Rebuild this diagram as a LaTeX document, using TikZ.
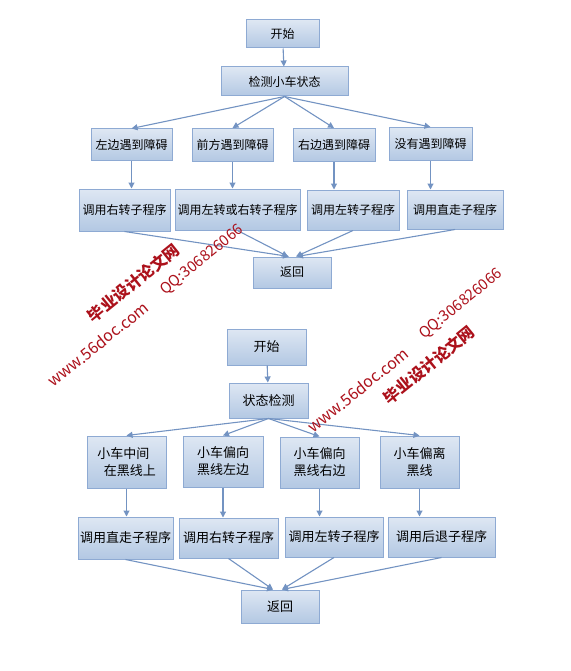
\documentclass[tikz,border=0pt]{standalone}
\usepackage{fontspec}
\setmainfont{Noto Sans CJK SC}
\usetikzlibrary{arrows.meta}

\definecolor{boxtop}{HTML}{DEE7F3}
\definecolor{boxbot}{HTML}{B3C8E3}
\definecolor{boxline}{HTML}{8EAAD3}
\definecolor{flow}{HTML}{7393C2}
\definecolor{wmred}{HTML}{AC111B}

\begin{document}
\begin{tikzpicture}[x=1pt, y=-1pt,
    box/.style={draw=boxline, line width=1pt, top color=boxtop, bottom color=boxbot,
        inner sep=0pt, align=center, font=\fontsize{12}{15}\selectfont},
    bigbox/.style={box, font=\fontsize{13}{17}\selectfont},
    flowline/.style={draw=flow, line width=1.1pt, -{Triangle[length=6pt,width=6pt]}},
    wm/.style={text=wmred, rotate=39, inner sep=0pt}]
    \useasboundingbox (0,0) rectangle (570,671);

    % First chart: obstacle checking
    \node[box, minimum width=73pt, minimum height=28pt] (start1) at (282.5,34) {开始};
    \node[box, minimum width=127pt, minimum height=29pt] (check1) at (284.5,81.5) {检测小车状态};

    \node[box, minimum width=81pt, minimum height=32pt] (left1) at (131.5,145) {左边遇到障碍};
    \node[box, minimum width=81pt, minimum height=33pt] (front1) at (232.5,145) {前方遇到障碍};
    \node[box, minimum width=82pt, minimum height=33pt] (right1) at (334,145) {右边遇到障碍};
    \node[box, minimum width=83pt, minimum height=33pt] (none1) at (430.5,144) {没有遇到障碍};

    \node[box, minimum width=91pt, minimum height=42pt] (callA1) at (124.5,210) {调用右转子程序};
    \node[box, minimum width=125pt, minimum height=41pt] (callB1) at (237.5,209.5) {调用左转或右转子程序};
    \node[box, minimum width=92pt, minimum height=40pt] (callC1) at (353,210) {调用左转子程序};
    \node[box, minimum width=96pt, minimum height=39pt] (callD1) at (455,209.5) {调用直走子程序};

    \node[box, minimum width=78pt, minimum height=31pt] (ret1) at (292,272.5) {返回};

    % Edges of the first chart
    \draw[flowline] (start1) -- (check1);
    \draw[flowline] (check1.south) -- (left1.north);
    \draw[flowline] (check1.south) -- (front1.north);
    \draw[flowline] (check1.south) -- (right1.north);
    \draw[flowline] (check1.south) -- (none1.north);
    \draw[flowline] (left1.south) -- (left1.south |- callA1.north);
    \draw[flowline] (front1.south) -- (front1.south |- callB1.north);
    \draw[flowline] (right1.south) -- (right1.south |- callC1.north);
    \draw[flowline] (none1.south) -- (none1.south |- callD1.north);
    \draw[flowline] (callA1.south) -- ([xshift=-3pt]ret1.north);
    \draw[flowline] (callB1.south) -- ([xshift=-4pt]ret1.north);
    \draw[flowline] (callC1.south) -- ([xshift=4pt]ret1.north);
    \draw[flowline] (callD1.south) -- ([xshift=5pt]ret1.north);

    % Second chart: line tracking
    \node[bigbox, minimum width=79pt, minimum height=36pt] (start2) at (266.5,347) {开始};
    \node[bigbox, minimum width=79pt, minimum height=35pt] (check2) at (268.5,400.5) {状态检测};

    \node[bigbox, minimum width=79pt, minimum height=52pt] (mid2) at (126.5,462) {小车中间\hspace*{0.5em}\\\hspace*{0.5em}在黑线上};
    \node[bigbox, minimum width=80pt, minimum height=51pt] (lft2) at (223,461.5) {小车偏向\\黑线左边};
    \node[bigbox, minimum width=79pt, minimum height=51pt] (rgt2) at (319.5,462.5) {小车偏向\\黑线右边};
    \node[bigbox, minimum width=79pt, minimum height=52pt] (off2) at (419.5,462) {小车偏离\\黑线};

    \node[bigbox, minimum width=95pt, minimum height=42pt] (callA2) at (125.5,538) {调用直走子程序};
    \node[bigbox, minimum width=99pt, minimum height=40pt] (callB2) at (228.5,538) {调用右转子程序};
    \node[bigbox, minimum width=98pt, minimum height=40pt] (callC2) at (334,537) {调用左转子程序};
    \node[bigbox, minimum width=107pt, minimum height=40pt] (callD2) at (441.5,537) {调用后退子程序};

    \node[bigbox, minimum width=78pt, minimum height=33pt] (ret2) at (280,606.5) {返回};

    % Edges of the second chart
    \draw[flowline] (start2) -- (check2);
    \draw[flowline] (check2.south) -- (mid2.north);
    \draw[flowline] (check2.south) -- (lft2.north);
    \draw[flowline] (check2.south) -- (rgt2.north);
    \draw[flowline] (check2.south) -- (off2.north);
    \draw[flowline] (mid2.south) -- (mid2.south |- callA2.north);
    \draw[flowline] (lft2.south) -- (lft2.south |- callB2.north);
    \draw[flowline] (rgt2.south) -- (rgt2.south |- callC2.north);
    \draw[flowline] (off2.south) -- (off2.south |- callD2.north);
    \draw[flowline] (callA2.south) -- ([xshift=-7pt]ret2.north);
    \draw[flowline] (callB2.south) -- ([xshift=-7pt]ret2.north);
    \draw[flowline] (callC2.south) -- ([xshift=2pt]ret2.north);
    \draw[flowline] (callD2.south) -- ([xshift=2pt]ret2.north);

    % Watermarks
    \node[wm, font=\fontsize{16}{16}\selectfont\bfseries] (wmcn1) at (133.5,283) {毕业设计论文网};
    \node[wm, font=\fontsize{15}{15}\selectfont] (wmqq1) at (202,260) {QQ:306826066};
    \node[wm, font=\fontsize{16}{16}\selectfont] (wmurl1) at (98,344) {www.56doc.com};
    \node[wm, font=\fontsize{16}{16}\selectfont\bfseries] (wmcn2) at (429,365) {毕业设计论文网};
    \node[wm, font=\fontsize{15}{15}\selectfont] (wmqq2) at (461,304) {QQ:306826066};
    \node[wm, font=\fontsize{16}{16}\selectfont] (wmurl2) at (358,390) {www.56doc.com};
\end{tikzpicture}
\end{document}
